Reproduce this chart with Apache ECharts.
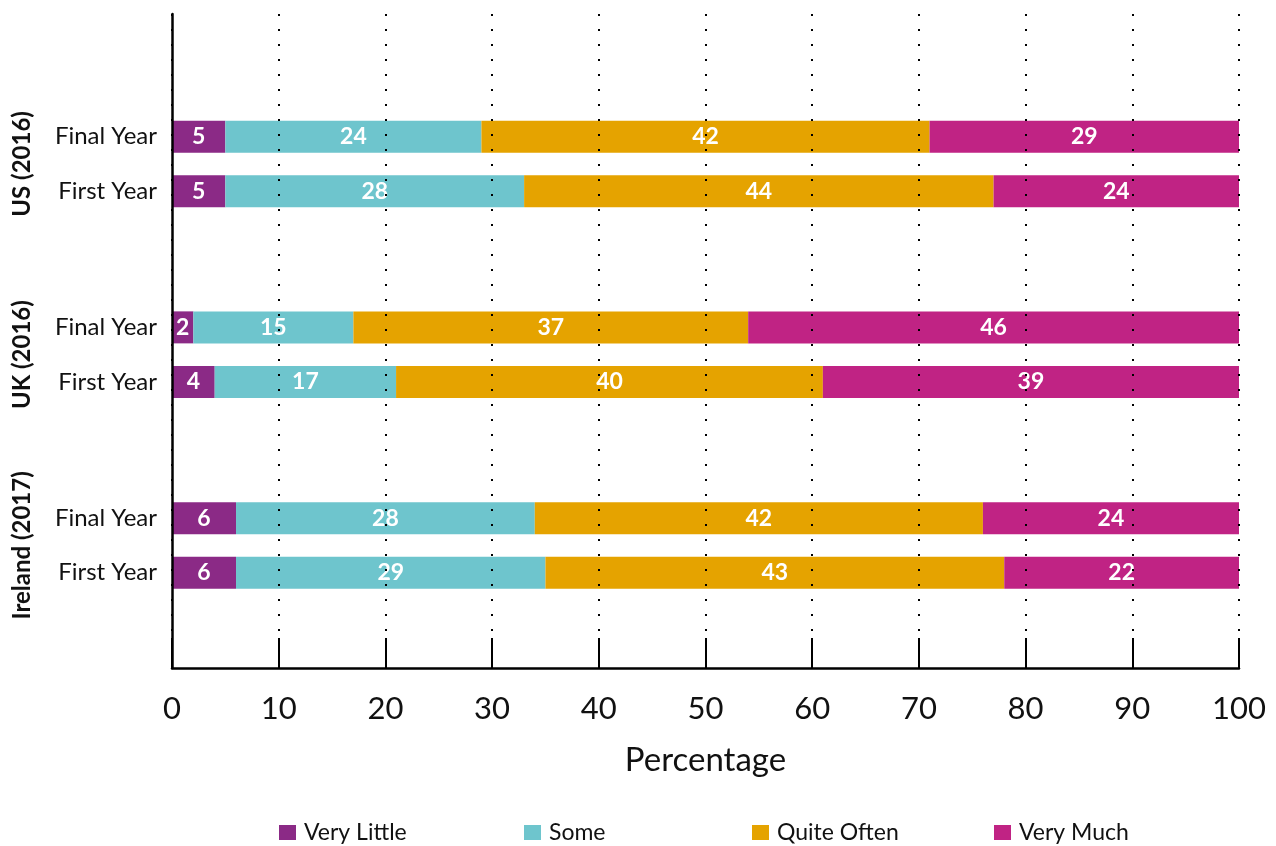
<!DOCTYPE html>
<html>
<head>
<meta charset="utf-8">
<script src="https://cdn.jsdelivr.net/npm/echarts@6/dist/echarts.min.js"></script>
<style>
  html, body { margin: 0; padding: 0; background: #ffffff; }
  #chart { width: 1276px; height: 846px; }
</style>
</head>
<body>
<div id="chart"></div>
<script>
// Survey groups (top to bottom) and the two cohorts shown within each group
const groups = ['US (2016)', 'UK (2016)', 'Ireland (2017)'];
const cohorts = ['Final Year', 'First Year'];

// Response categories, stacked left to right
const seriesNames = ['Very Little', 'Some', 'Quite Often', 'Very Much'];
const seriesColors = ['#8B2A86', '#6EC5CD', '#E5A300', '#C02384'];

// Percentages per row: US Final, US First, UK Final, UK First, Ireland Final, Ireland First
const veryLittle = [5, 5, 2, 4, 6, 6];
const some       = [24, 28, 15, 17, 28, 29];
const quiteOften = [42, 44, 37, 40, 42, 43];
const veryMuch   = [29, 24, 46, 39, 24, 22];

const xTickValues = [0, 10, 20, 30, 40, 50, 60, 70, 80, 90, 100];

// The category axis is split into evenly spaced slots; each group takes
// a block of slots with its two bars two slots apart, leaving blank slots between groups.
const LEAD = 4, GROUP_SPAN = 7, ROW_STEP = 2, TOTAL_SLOTS = 24;

const rowLabels = new Array(TOTAL_SLOTS).fill('');
const groupLabels = new Array(TOTAL_SLOTS).fill('');
const rowSlot = [];
groups.forEach((g, gi) => {
  const base = LEAD + gi * GROUP_SPAN;
  cohorts.forEach((c, ci) => {
    const slot = base + ci * ROW_STEP;
    rowLabels[slot] = c;
    rowSlot.push(slot);
  });
  groupLabels[base + (ROW_STEP / 2)] = g;
});

function toSlots(values) {
  const out = new Array(TOTAL_SLOTS).fill('-');
  values.forEach((v, i) => { out[rowSlot[i]] = v; });
  return out;
}

const seriesValues = [veryLittle, some, quiteOften, veryMuch];
const FONT = 'Lato, "Noto Sans", sans-serif';

const series = seriesNames.map((name, i) => ({
  name: name,
  type: 'bar',
  stack: 'total',
  barWidth: 32,
  yAxisIndex: 0,
  itemStyle: { color: seriesColors[i] },
  label: {
    show: true,
    position: 'inside',
    color: '#ffffff',
    fontFamily: FONT,
    fontWeight: 'bold',
    fontSize: 23
  },
  emphasis: { disabled: true },
  data: toSlots(seriesValues[i])
}));

const legendLefts = [279, 524, 752, 994];
const legends = seriesNames.map((name, i) => ({
  data: [name],
  left: legendLefts[i],
  top: 821,
  padding: 0,
  itemWidth: 17,
  itemHeight: 15,
  icon: 'rect',
  selectedMode: false,
  textStyle: { fontFamily: FONT, fontSize: 23, color: '#111111', padding: [0, 0, 0, 3] }
}));

const chart = echarts.init(document.getElementById('chart'), null, { renderer: 'canvas' });
chart.setOption({
  animation: false,
  backgroundColor: '#ffffff',
  grid: { left: 172, right: 37, top: 14, bottom: 178, containLabel: false },
  legend: legends,
  xAxis: {
    type: 'value',
    min: xTickValues[0],
    max: xTickValues[xTickValues.length - 1],
    interval: xTickValues[1] - xTickValues[0],
    z: 10,
    name: 'Percentage',
    nameLocation: 'middle',
    nameGap: 76,
    nameTextStyle: { fontFamily: FONT, fontSize: 33, color: '#111111' },
    axisLine: { show: true, lineStyle: { color: '#000000', width: 2.5 } },
    axisTick: { show: true, inside: true, length: 30, lineStyle: { color: '#000000', width: 2 } },
    axisLabel: { fontFamily: FONT, fontSize: 31, color: '#111111', margin: 25 },
    splitLine: { show: true, lineStyle: { color: '#000000', width: 2, type: [2, 13] } }
  },
  yAxis: [
    {
      type: 'category',
      inverse: true,
      data: rowLabels,
      z: 10,
      axisLine: { show: true, onZero: false, lineStyle: { color: '#000000', width: 2.5 } },
      axisTick: { show: false },
      splitLine: { show: false },
      axisLabel: { interval: 0, fontFamily: FONT, fontSize: 24, color: '#111111', margin: 15 }
    },
    {
      type: 'category',
      inverse: true,
      position: 'left',
      data: groupLabels,
      axisLine: { show: false },
      axisTick: { show: false },
      splitLine: { show: false },
      axisLabel: {
        interval: 0, rotate: 90, fontFamily: FONT, fontWeight: 'bold',
        fontSize: 24, color: '#111111', margin: 138
      }
    }
  ],
  series: series
});
</script>
</body>
</html>
